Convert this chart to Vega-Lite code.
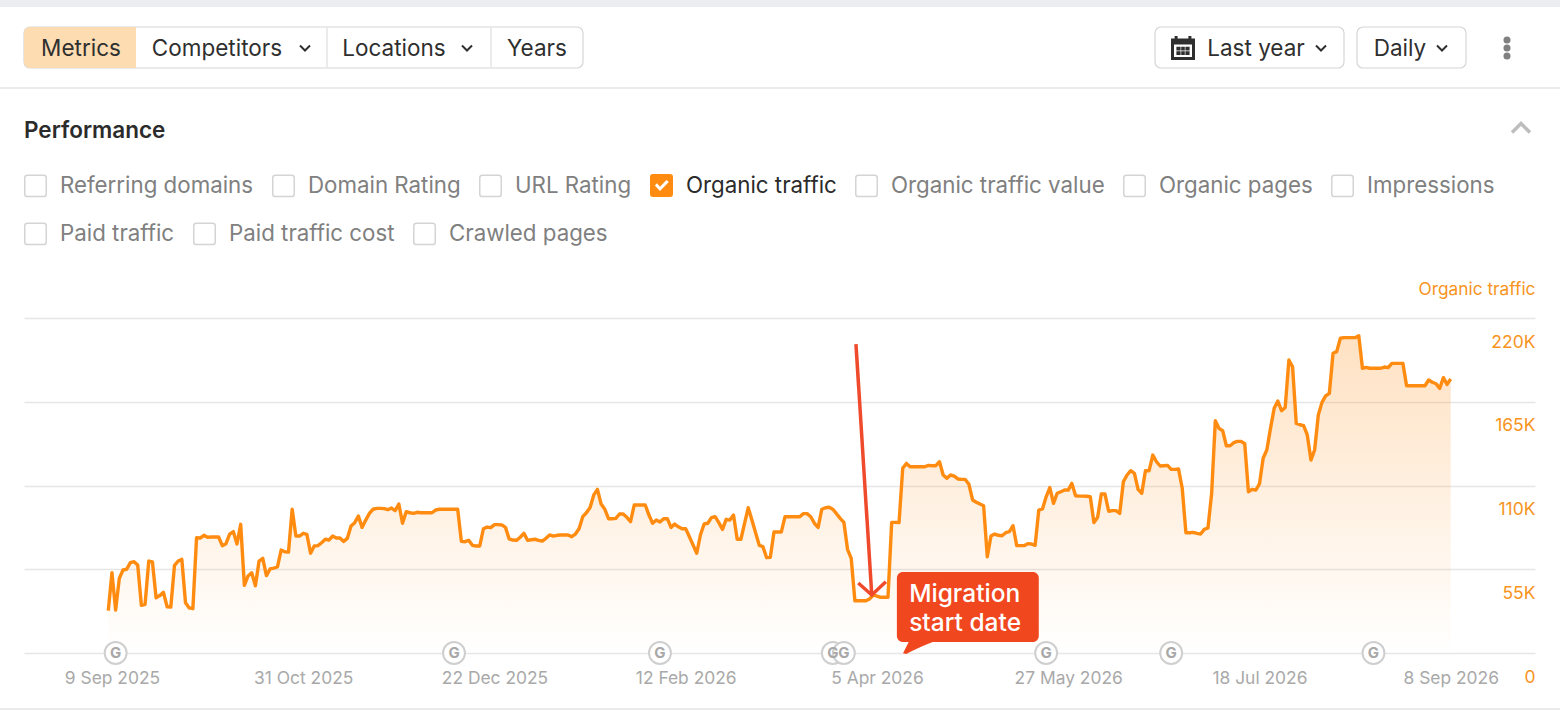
{"$schema":"https://vega.github.io/schema/vega-lite/v6.json","width":1511,"height":335,"padding":{"left":24,"top":318,"right":25,"bottom":58},"autosize":{"type":"none"},"background":"#ffffff","config":{"view":{"stroke":null},"legend":{"symbolSize":462,"symbolStrokeWidth":1.5,"labelFont":"Inter","labelFontSize":22.3,"labelOffset":13,"columnPadding":15,"labelLimit":400,"title":null}},"datasets":{"traffic":[
{"date":"2025-09-08","value":27800},{"date":"2025-09-09","value":52700},{"date":"2025-09-10","value":28200},{"date":"2025-09-11","value":49000},{"date":"2025-09-12","value":54500},{"date":"2025-09-13","value":55000},{"date":"2025-09-14","value":59300},{"date":"2025-09-15","value":60000},{"date":"2025-09-16","value":57800},{"date":"2025-09-17","value":31300},{"date":"2025-09-18","value":32000},{"date":"2025-09-19","value":60400},{"date":"2025-09-20","value":59800},{"date":"2025-09-21","value":36300},{"date":"2025-09-22","value":37700},{"date":"2025-09-23","value":39800},{"date":"2025-09-24","value":30400},{"date":"2025-09-25","value":30200},{"date":"2025-09-26","value":57600},{"date":"2025-09-27","value":60400},{"date":"2025-09-28","value":61500},{"date":"2025-09-29","value":33000},{"date":"2025-09-30","value":29600},
{"date":"2025-10-01","value":29100},{"date":"2025-10-02","value":75700},{"date":"2025-10-03","value":75500},{"date":"2025-10-04","value":77300},{"date":"2025-10-05","value":76000},{"date":"2025-10-06","value":76200},{"date":"2025-10-07","value":76200},{"date":"2025-10-08","value":76200},{"date":"2025-10-09","value":70500},{"date":"2025-10-10","value":71800},{"date":"2025-10-11","value":78100},{"date":"2025-10-12","value":79700},{"date":"2025-10-13","value":71600},{"date":"2025-10-14","value":84500},{"date":"2025-10-15","value":44400},{"date":"2025-10-16","value":50600},{"date":"2025-10-17","value":52700},{"date":"2025-10-18","value":44200},{"date":"2025-10-19","value":60400},{"date":"2025-10-20","value":62200},{"date":"2025-10-21","value":50800},{"date":"2025-10-22","value":55200},{"date":"2025-10-23","value":55800},{"date":"2025-10-24","value":56500},{"date":"2025-10-25","value":67600},{"date":"2025-10-26","value":66500},{"date":"2025-10-27","value":66300},{"date":"2025-10-28","value":94400},{"date":"2025-10-29","value":76800},{"date":"2025-10-30","value":76800},{"date":"2025-10-31","value":78600},
{"date":"2025-11-01","value":77900},{"date":"2025-11-02","value":65500},{"date":"2025-11-03","value":70300},{"date":"2025-11-04","value":70500},{"date":"2025-11-05","value":72400},{"date":"2025-11-06","value":74700},{"date":"2025-11-07","value":74200},{"date":"2025-11-08","value":76800},{"date":"2025-11-09","value":75500},{"date":"2025-11-10","value":75500},{"date":"2025-11-11","value":73300},{"date":"2025-11-12","value":75300},{"date":"2025-11-13","value":83400},{"date":"2025-11-14","value":85600},{"date":"2025-11-15","value":90000},{"date":"2025-11-16","value":82500},{"date":"2025-11-17","value":87300},{"date":"2025-11-18","value":91700},{"date":"2025-11-19","value":94400},{"date":"2025-11-20","value":95000},{"date":"2025-11-21","value":95000},{"date":"2025-11-22","value":94800},{"date":"2025-11-23","value":94100},{"date":"2025-11-24","value":95200},{"date":"2025-11-25","value":93500},{"date":"2025-11-26","value":97800},{"date":"2025-11-27","value":85200},{"date":"2025-11-28","value":92800},{"date":"2025-11-29","value":92100},{"date":"2025-11-30","value":91700},
{"date":"2025-12-01","value":92400},{"date":"2025-12-02","value":92100},{"date":"2025-12-03","value":92100},{"date":"2025-12-04","value":92100},{"date":"2025-12-05","value":92100},{"date":"2025-12-06","value":93900},{"date":"2025-12-07","value":94400},{"date":"2025-12-08","value":94400},{"date":"2025-12-09","value":94400},{"date":"2025-12-10","value":94400},{"date":"2025-12-11","value":94400},{"date":"2025-12-12","value":94400},{"date":"2025-12-13","value":73300},{"date":"2025-12-14","value":73100},{"date":"2025-12-15","value":74000},{"date":"2025-12-16","value":70700},{"date":"2025-12-17","value":70300},{"date":"2025-12-18","value":70300},{"date":"2025-12-19","value":81600},{"date":"2025-12-20","value":82700},{"date":"2025-12-21","value":82300},{"date":"2025-12-22","value":84300},{"date":"2025-12-23","value":84300},{"date":"2025-12-24","value":84100},{"date":"2025-12-25","value":82500},{"date":"2025-12-26","value":74900},{"date":"2025-12-27","value":74200},{"date":"2025-12-28","value":74000},{"date":"2025-12-29","value":76000},{"date":"2025-12-30","value":78600},{"date":"2025-12-31","value":74000},
{"date":"2026-01-01","value":74400},{"date":"2026-01-02","value":74700},{"date":"2026-01-03","value":74000},{"date":"2026-01-04","value":73500},{"date":"2026-01-05","value":75300},{"date":"2026-01-06","value":77500},{"date":"2026-01-07","value":76800},{"date":"2026-01-08","value":77300},{"date":"2026-01-09","value":77500},{"date":"2026-01-10","value":77500},{"date":"2026-01-11","value":77500},{"date":"2026-01-12","value":76400},{"date":"2026-01-13","value":78100},{"date":"2026-01-14","value":81600},{"date":"2026-01-15","value":89500},{"date":"2026-01-16","value":92100},{"date":"2026-01-17","value":95600},{"date":"2026-01-18","value":103800},{"date":"2026-01-19","value":107500},{"date":"2026-01-20","value":97800},{"date":"2026-01-21","value":94400},{"date":"2026-01-22","value":88200},{"date":"2026-01-23","value":88200},{"date":"2026-01-24","value":88400},{"date":"2026-01-25","value":91300},{"date":"2026-01-26","value":91300},{"date":"2026-01-27","value":89100},{"date":"2026-01-28","value":86200},{"date":"2026-01-29","value":97200},{"date":"2026-01-30","value":97200},{"date":"2026-01-31","value":97200},
{"date":"2026-02-01","value":97200},{"date":"2026-02-02","value":90600},{"date":"2026-02-03","value":85200},{"date":"2026-02-04","value":87300},{"date":"2026-02-05","value":86000},{"date":"2026-02-06","value":88200},{"date":"2026-02-07","value":88200},{"date":"2026-02-08","value":82500},{"date":"2026-02-09","value":84700},{"date":"2026-02-10","value":82900},{"date":"2026-02-11","value":81600},{"date":"2026-02-12","value":81600},{"date":"2026-02-13","value":76400},{"date":"2026-02-14","value":70900},{"date":"2026-02-15","value":65500},{"date":"2026-02-16","value":77500},{"date":"2026-02-17","value":84700},{"date":"2026-02-18","value":85200},{"date":"2026-02-19","value":88900},{"date":"2026-02-20","value":89500},{"date":"2026-02-21","value":85600},{"date":"2026-02-22","value":81200},{"date":"2026-02-23","value":87800},{"date":"2026-02-24","value":87300},{"date":"2026-02-25","value":90600},{"date":"2026-02-26","value":74700},{"date":"2026-02-27","value":74700},{"date":"2026-02-28","value":85200},
{"date":"2026-03-01","value":95400},{"date":"2026-03-02","value":87300},{"date":"2026-03-03","value":79000},{"date":"2026-03-04","value":70700},{"date":"2026-03-05","value":69800},{"date":"2026-03-06","value":62600},{"date":"2026-03-07","value":62800},{"date":"2026-03-08","value":79500},{"date":"2026-03-09","value":79500},{"date":"2026-03-10","value":79500},{"date":"2026-03-11","value":89500},{"date":"2026-03-12","value":89500},{"date":"2026-03-13","value":89500},{"date":"2026-03-14","value":89500},{"date":"2026-03-15","value":89500},{"date":"2026-03-16","value":91500},{"date":"2026-03-17","value":91500},{"date":"2026-03-18","value":89500},{"date":"2026-03-19","value":85200},{"date":"2026-03-20","value":82500},{"date":"2026-03-21","value":94400},{"date":"2026-03-22","value":95400},{"date":"2026-03-23","value":95700},{"date":"2026-03-24","value":94400},{"date":"2026-03-25","value":91500},{"date":"2026-03-26","value":88400},{"date":"2026-03-27","value":85800},{"date":"2026-03-28","value":68100},{"date":"2026-03-29","value":62200},{"date":"2026-03-30","value":34300},{"date":"2026-03-31","value":34300},
{"date":"2026-04-01","value":34300},{"date":"2026-04-02","value":34300},{"date":"2026-04-03","value":35500},{"date":"2026-04-04","value":38100},{"date":"2026-04-05","value":37400},{"date":"2026-04-06","value":36600},{"date":"2026-04-07","value":36600},{"date":"2026-04-08","value":36600},{"date":"2026-04-09","value":85800},{"date":"2026-04-10","value":85800},{"date":"2026-04-11","value":85600},{"date":"2026-04-12","value":121300},{"date":"2026-04-13","value":124500},{"date":"2026-04-14","value":122300},{"date":"2026-04-15","value":122300},{"date":"2026-04-16","value":122300},{"date":"2026-04-17","value":122300},{"date":"2026-04-18","value":122300},{"date":"2026-04-19","value":123200},{"date":"2026-04-20","value":123000},{"date":"2026-04-21","value":123000},{"date":"2026-04-22","value":125600},{"date":"2026-04-23","value":116900},{"date":"2026-04-24","value":114700},{"date":"2026-04-25","value":116900},{"date":"2026-04-26","value":116200},{"date":"2026-04-27","value":114300},{"date":"2026-04-28","value":114000},{"date":"2026-04-29","value":114000},{"date":"2026-04-30","value":110800},
{"date":"2026-05-01","value":100500},{"date":"2026-05-02","value":99000},{"date":"2026-05-03","value":97800},{"date":"2026-05-04","value":96700},{"date":"2026-05-05","value":63200},{"date":"2026-05-06","value":76800},{"date":"2026-05-07","value":78100},{"date":"2026-05-08","value":77300},{"date":"2026-05-09","value":77000},{"date":"2026-05-10","value":79000},{"date":"2026-05-11","value":79700},{"date":"2026-05-12","value":83600},{"date":"2026-05-13","value":70500},{"date":"2026-05-14","value":70500},{"date":"2026-05-15","value":70500},{"date":"2026-05-16","value":71800},{"date":"2026-05-17","value":71600},{"date":"2026-05-18","value":70700},{"date":"2026-05-19","value":93900},{"date":"2026-05-20","value":94600},{"date":"2026-05-21","value":102600},{"date":"2026-05-22","value":108600},{"date":"2026-05-23","value":98300},{"date":"2026-05-24","value":104900},{"date":"2026-05-25","value":105900},{"date":"2026-05-26","value":107000},{"date":"2026-05-27","value":107000},{"date":"2026-05-28","value":111400},{"date":"2026-05-29","value":103300},{"date":"2026-05-30","value":103000},{"date":"2026-05-31","value":103000},
{"date":"2026-06-01","value":102900},{"date":"2026-06-02","value":102600},{"date":"2026-06-03","value":85600},{"date":"2026-06-04","value":89100},{"date":"2026-06-05","value":104400},{"date":"2026-06-06","value":104400},{"date":"2026-06-07","value":93100},{"date":"2026-06-08","value":93500},{"date":"2026-06-09","value":93500},{"date":"2026-06-10","value":91700},{"date":"2026-06-11","value":112500},{"date":"2026-06-12","value":116900},{"date":"2026-06-13","value":119700},{"date":"2026-06-14","value":118000},{"date":"2026-06-15","value":107500},{"date":"2026-06-16","value":104900},{"date":"2026-06-17","value":119700},{"date":"2026-06-18","value":119700},{"date":"2026-06-19","value":130000},{"date":"2026-06-20","value":125600},{"date":"2026-06-21","value":122800},{"date":"2026-06-22","value":123000},{"date":"2026-06-23","value":123200},{"date":"2026-06-24","value":120600},{"date":"2026-06-25","value":120600},{"date":"2026-06-26","value":120800},{"date":"2026-06-27","value":108200},{"date":"2026-06-28","value":79000},{"date":"2026-06-29","value":79000},{"date":"2026-06-30","value":79200},
{"date":"2026-07-01","value":78600},{"date":"2026-07-02","value":78100},{"date":"2026-07-03","value":81200},{"date":"2026-07-04","value":82100},{"date":"2026-07-05","value":104900},{"date":"2026-07-06","value":152500},{"date":"2026-07-07","value":147500},{"date":"2026-07-08","value":146000},{"date":"2026-07-09","value":136100},{"date":"2026-07-10","value":136100},{"date":"2026-07-11","value":138100},{"date":"2026-07-12","value":139000},{"date":"2026-07-13","value":139000},{"date":"2026-07-14","value":137400},{"date":"2026-07-15","value":105900},{"date":"2026-07-16","value":107500},{"date":"2026-07-17","value":107000},{"date":"2026-07-18","value":111000},{"date":"2026-07-19","value":127900},{"date":"2026-07-20","value":133300},{"date":"2026-07-21","value":147500},{"date":"2026-07-22","value":160700},{"date":"2026-07-23","value":165500},{"date":"2026-07-24","value":159100},{"date":"2026-07-25","value":161300},{"date":"2026-07-26","value":192400},{"date":"2026-07-27","value":188000},{"date":"2026-07-28","value":150800},{"date":"2026-07-29","value":149900},{"date":"2026-07-30","value":149300},{"date":"2026-07-31","value":143200},
{"date":"2026-08-01","value":126700},{"date":"2026-08-02","value":133300},{"date":"2026-08-03","value":156300},{"date":"2026-08-04","value":164600},{"date":"2026-08-05","value":168800},{"date":"2026-08-06","value":170500},{"date":"2026-08-07","value":196800},{"date":"2026-08-08","value":197900},{"date":"2026-08-09","value":206700},{"date":"2026-08-10","value":207100},{"date":"2026-08-11","value":207100},{"date":"2026-08-12","value":207100},{"date":"2026-08-13","value":207100},{"date":"2026-08-14","value":208400},{"date":"2026-08-15","value":187000},{"date":"2026-08-16","value":187600},{"date":"2026-08-17","value":187000},{"date":"2026-08-18","value":187000},{"date":"2026-08-19","value":187000},{"date":"2026-08-20","value":187000},{"date":"2026-08-21","value":187800},{"date":"2026-08-22","value":187400},{"date":"2026-08-23","value":190200},{"date":"2026-08-24","value":190200},{"date":"2026-08-25","value":190200},{"date":"2026-08-26","value":190200},{"date":"2026-08-27","value":175500},{"date":"2026-08-28","value":175500},{"date":"2026-08-29","value":175500},{"date":"2026-08-30","value":175500},{"date":"2026-08-31","value":175500},
{"date":"2026-09-01","value":175500},{"date":"2026-09-02","value":179300},{"date":"2026-09-03","value":177800},{"date":"2026-09-04","value":176800},{"date":"2026-09-05","value":173800},{"date":"2026-09-06","value":180800},{"date":"2026-09-07","value":176400},{"date":"2026-09-08","value":179900}
],"badges":[{"date":"2025-09-10","value":0,"badge":"G"},{"date":"2025-12-11","value":0,"badge":"G"},{"date":"2026-02-05","value":0,"badge":"G"},{"date":"2026-03-24","value":0,"badge":"G"},{"date":"2026-03-27","value":0,"badge":"G"},{"date":"2026-05-21","value":0,"badge":"G"},{"date":"2026-06-24","value":0,"badge":"G"},{"date":"2026-08-18","value":0,"badge":"G"}]},
"layer":[
{"encoding":{"x":{"field":"date","type":"temporal","title":null,"scale":{"type":"utc","domain":["2025-08-16T02:00:00Z","2026-09-30T22:00:00Z"]},"axis":{"values":["2025-09-09T00:00:00Z","2025-10-31T00:00:00Z","2025-12-22T00:00:00Z","2026-02-12T00:00:00Z","2026-04-05T00:00:00Z","2026-05-27T00:00:00Z","2026-07-18T00:00:00Z","2026-09-08T00:00:00Z"],"format":"%-d %b %Y","grid":false,"domain":false,"ticks":false,"labelFont":"Inter","labelFontSize":17.4,"labelColor":"#a9a9a9","labelPadding":16,"labelOverlap":false,"labelFlush":false,"labelBound":false}},"y":{"field":"value","type":"quantitative","scale":{"domain":[0,220000],"nice":false},"axis":{"orient":"right","values":[0,55000,110000,165000,220000],"labelExpr":"datum.value==0?'0':(datum.value/1000)+'K'","grid":true,"gridColor":"#e6e6e6","gridWidth":1.5,"domain":false,"ticks":false,"labelFont":"Inter","labelFontSize":17.5,"labelColor":"#f7941d","labelAlign":"right","labelPadding":0,"labelOffset":24,"labelOverlap":false,"labelFlush":false,"labelBound":false,"title":"Organic traffic","titleFont":"Inter","titleFontSize":17.3,"titleFontWeight":400,"titleColor":"#f7941d","titleAngle":0,"titleAlign":"right","titleBaseline":"middle","titleX":0,"titleY":-29}}},
"layer":[
{"data":{"name":"traffic"},"mark":{"type":"area","color":{"gradient":"linear","x1":0,"y1":0,"x2":0,"y2":1,"stops":[{"offset":0,"color":"rgba(255,140,20,0.26)"},{"offset":1,"color":"rgba(255,140,20,0)"}]}}},
{"data":{"name":"traffic"},"mark":{"type":"line","color":"#ff8c11","strokeWidth":3.4,"strokeJoin":"round"}},
{"data":{"values":[{"part":"shaft","date":"2026-03-30T07:00:00Z","value":202900},{"part":"shaft","date":"2026-04-03T14:00:00Z","value":38100},{"part":"head","date":"2026-03-30T22:00:00Z","value":46000},{"part":"head","date":"2026-04-03T14:00:00Z","value":38100},{"part":"head","date":"2026-04-07T10:00:00Z","value":46800}]},"mark":{"type":"line","color":"#ef4a2b","strokeWidth":3.5},"encoding":{"detail":{"field":"part"}}},
{"data":{"name":"badges"},"mark":{"type":"point","shape":"circle","filled":true,"fill":"#ffffff","stroke":"#cfcfcf","strokeWidth":2,"size":480,"opacity":1}},
{"data":{"name":"badges"},"mark":{"type":"text","font":"Inter","fontSize":15,"fontWeight":700,"color":"#a8a8a8","align":"center","baseline":"middle"},"encoding":{"text":{"field":"badge"}}},
{"data":{"values":[{"date":"2026-04-10T10:00:00Z","date_end":"2026-05-19T00:00:00Z","value":53200,"value_end":7200}]},"mark":{"type":"rect","color":"#f1471f","cornerRadius":6},"encoding":{"x2":{"field":"date_end"},"y2":{"field":"value_end"}}},
{"data":{"values":[{"date":"2026-04-16","value":4600}]},"mark":{"type":"point","shape":"M-0.9,0.45L-0.5,-0.35L1.2,-0.35Q0,0.1-0.7,0.5Z","filled":true,"color":"#f1471f","size":1024,"opacity":1}},
{"data":{"values":[{"date":"2026-04-13T18:00:00Z","value":38100,"note":"Migration"},{"date":"2026-04-13T18:00:00Z","value":19100,"note":"start date"}]},"mark":{"type":"text","font":"Inter","fontSize":24.5,"fontWeight":500,"color":"#ffffff","align":"left","baseline":"middle"},"encoding":{"text":{"field":"note"}}}
]},
{"encoding":{"x":{"field":"col","type":"quantitative","axis":null,"scale":{"domain":[0,1,2,3,4,5,6,7,8,9,10,11,12,13,14,15,16,17,18,19,20,21,22,23],"range":[-24,0,57,112,193,281,303,370,443,467,513,559,1131,1159,1232,1297,1320,1333,1376,1418,1442,1483,1497,1536]}},"y":{"field":"row","type":"quantitative","axis":null,"scale":{"domain":[1,2,3,4,5,6,7,8,9,10],"range":[-318,-311,-291,-278,-270,-262,-250,-230,-190,391]}}},
"layer":[
{"data":{"values":[{"col":0,"col_end":23,"row":1,"row_end":2}]},"mark":{"type":"rect","color":"#ebedf0"},"encoding":{"x2":{"field":"col_end"},"y2":{"field":"row_end"}}},
{"data":{"values":[{"col":1,"col_end":11,"row":3,"row_end":7},{"col":12,"col_end":16,"row":3,"row_end":7},{"col":17,"col_end":20,"row":3,"row_end":7}]},"mark":{"type":"rect","fill":"#ffffff","stroke":"#d6d6d6","strokeWidth":1.2,"cornerRadius":6},"encoding":{"x2":{"field":"col_end"},"y2":{"field":"row_end"}}},
{"data":{"values":[{"col":1,"col_end":3,"row":3,"row_end":7}]},"mark":{"type":"rect","fill":"#fddcb2","cornerRadiusTopLeft":6,"cornerRadiusBottomLeft":6},"encoding":{"x2":{"field":"col_end"},"y2":{"field":"row_end"}}},
{"data":{"values":[{"col":6,"col_end":6,"row":3,"row_end":7},{"col":9,"col_end":9,"row":3,"row_end":7},{"col":0,"col_end":23,"row":8,"row_end":8},{"col":0,"col_end":23,"row":10,"row_end":10}]},"mark":{"type":"rule","color":"#e4e4e4","strokeWidth":1.5},"encoding":{"x2":{"field":"col_end"},"y2":{"field":"row_end"}}},
{"data":{"values":[{"control":"Metrics","col":2,"row":5},{"control":"Competitors","col":4,"row":5},{"control":"Locations","col":7,"row":5},{"control":"Years","col":10,"row":5},{"control":"Last year","col":14,"row":5},{"control":"Daily","col":18,"row":5}]},"mark":{"type":"text","font":"Inter","fontSize":22.5,"color":"#2f2f2f","align":"center","baseline":"middle","dy":1},"encoding":{"text":{"field":"control"}}},
{"data":{"values":[{"section":"Performance","col":1,"row":9}]},"mark":{"type":"text","font":"Inter","fontSize":22.5,"fontWeight":600,"color":"#2b2b2b","align":"left","baseline":"middle","dy":3},"encoding":{"text":{"field":"section"}}},
{"data":{"values":[{"col":5,"row":5},{"col":8,"row":5},{"col":15,"row":5},{"col":19,"row":5}]},"mark":{"type":"point","shape":"M-1,-0.5L0,0.5L1,-0.5","filled":false,"stroke":"#2f2f2f","strokeWidth":2,"size":100,"opacity":1}},
{"data":{"values":[{"col":22,"row":9}]},"mark":{"type":"point","shape":"M-1,0.5L0,-0.5L1,0.5","filled":false,"stroke":"#bdbdbd","strokeWidth":3.5,"size":324,"opacity":1}},
{"data":{"values":[{"col":21,"row":4},{"col":21,"row":5},{"col":21,"row":6}]},"mark":{"type":"point","shape":"circle","filled":true,"color":"#808080","size":50,"opacity":1}},
{"data":{"values":[{"col":13,"row":5}]},"mark":{"type":"point","shape":"M-1,-0.8H-0.7V-1H-0.45V-0.8H0.45V-1H0.7V-0.8H1V1H-1ZM-0.75,-0.3V0.75H0.75V-0.3ZM-0.55,-0.1H-0.2V0.2H-0.55ZM-0.15,-0.1H0.15V0.2H-0.15ZM0.2,-0.1H0.55V0.2H0.2ZM-0.55,0.28H-0.2V0.58H-0.55ZM-0.15,0.28H0.15V0.58H-0.15ZM0.2,0.28H0.55V0.58H0.2Z","filled":true,"color":"#2f2f2f","size":576,"opacity":1}}
]},
{"data":{"values":[{"metric":"Referring domains"},{"metric":"Domain Rating"},{"metric":"URL Rating"},{"metric":"Organic traffic"},{"metric":"Organic traffic value"},{"metric":"Organic pages"},{"metric":"Impressions"}]},"mark":{"type":"point","opacity":0,"size":0},"encoding":{"shape":{"field":"metric","type":"nominal","sort":null,"scale":{"domain":["Referring domains","Domain Rating","URL Rating","Organic traffic","Organic traffic value","Organic pages","Impressions"],"range":["M-0.75,-1H0.75Q1,-1 1,-0.75V0.75Q1,1 0.75,1H-0.75Q-1,1 -1,0.75V-0.75Q-1,-1 -0.75,-1Z","M-0.75,-1H0.75Q1,-1 1,-0.75V0.75Q1,1 0.75,1H-0.75Q-1,1 -1,0.75V-0.75Q-1,-1 -0.75,-1Z","M-0.75,-1H0.75Q1,-1 1,-0.75V0.75Q1,1 0.75,1H-0.75Q-1,1 -1,0.75V-0.75Q-1,-1 -0.75,-1Z","M-0.8,-1.07H0.8Q1.07,-1.07 1.07,-0.8V0.8Q1.07,1.07 0.8,1.07H-0.8Q-1.07,1.07 -1.07,0.8V-0.8Q-1.07,-1.07 -0.8,-1.07ZM-0.62,0L-0.14,0.52L0.68,-0.32L0.46,-0.52L-0.14,0.12L-0.42,-0.2Z","M-0.75,-1H0.75Q1,-1 1,-0.75V0.75Q1,1 0.75,1H-0.75Q-1,1 -1,0.75V-0.75Q-1,-1 -0.75,-1Z","M-0.75,-1H0.75Q1,-1 1,-0.75V0.75Q1,1 0.75,1H-0.75Q-1,1 -1,0.75V-0.75Q-1,-1 -0.75,-1Z","M-0.75,-1H0.75Q1,-1 1,-0.75V0.75Q1,1 0.75,1H-0.75Q-1,1 -1,0.75V-0.75Q-1,-1 -0.75,-1Z"]},"legend":{"orient":"none","legendX":0,"legendY":-144,"columns":7,"encoding":{"symbols":{"opacity":{"value":1},"size":{"value":462},"strokeWidth":{"value":1.5},"fill":{"condition":{"test":"datum.value==='Organic traffic'","value":"#ff8c11"},"value":"#ffffff"},"stroke":{"condition":{"test":"datum.value==='Organic traffic'","value":"transparent"},"value":"#d4d4d4"}},"labels":{"fill":{"condition":{"test":"datum.value==='Organic traffic'","value":"#2b2b2b"},"value":"#808080"}}}}}}},
{"data":{"values":[{"metric2":"Paid traffic"},{"metric2":"Paid traffic cost"},{"metric2":"Crawled pages"}]},"mark":{"type":"point","opacity":0,"size":0},"encoding":{"shape":{"field":"metric2","type":"nominal","sort":null,"scale":{"domain":["Paid traffic","Paid traffic cost","Crawled pages"],"range":["M-0.75,-1H0.75Q1,-1 1,-0.75V0.75Q1,1 0.75,1H-0.75Q-1,1 -1,0.75V-0.75Q-1,-1 -0.75,-1Z","M-0.75,-1H0.75Q1,-1 1,-0.75V0.75Q1,1 0.75,1H-0.75Q-1,1 -1,0.75V-0.75Q-1,-1 -0.75,-1Z","M-0.75,-1H0.75Q1,-1 1,-0.75V0.75Q1,1 0.75,1H-0.75Q-1,1 -1,0.75V-0.75Q-1,-1 -0.75,-1Z"]},"legend":{"orient":"none","legendX":0,"legendY":-96,"columns":3,"encoding":{"symbols":{"opacity":{"value":1},"size":{"value":462},"strokeWidth":{"value":1.5},"fill":{"value":"#ffffff"},"stroke":{"value":"#d4d4d4"}},"labels":{"fill":{"value":"#808080"}}}}}}}
],
"resolve":{"scale":{"x":"independent","y":"independent","shape":"independent"},"axis":{"x":"independent","y":"independent"},"legend":{"shape":"independent"}}}
